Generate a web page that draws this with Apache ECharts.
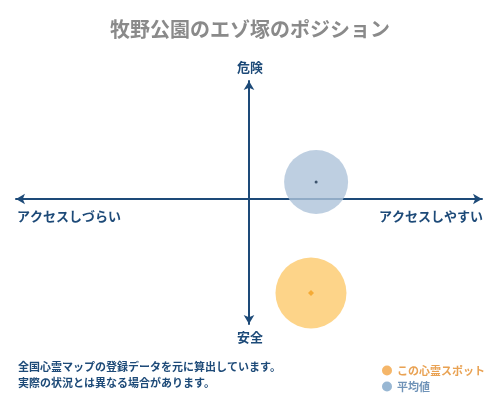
<!DOCTYPE html>
<html><head><meta charset="utf-8">
<script src="https://cdn.jsdelivr.net/npm/echarts@6/dist/echarts.min.js"></script>
<style>html,body{margin:0;padding:0;background:#fff}#c{width:500px;height:400px}</style>
</head><body><div id="c"></div>
<script>
const titleText = "牧野公園のエゾ塚のポジション";
const seriesNames = ["この心霊スポット", "平均値"];
const spotPoint = [0.266, -0.797];
const avgPoint = [0.288, 0.144];
const axisLabels = { top: "危険", bottom: "安全", left: "アクセスしづらい", right: "アクセスしやすい" };
const footerLines = ["全国心霊マップの登録データを元に算出しています。", "実際の状況とは異なる場合があります。"];

const FONT = '"Noto Sans CJK JP", sans-serif';
const NAVY = '#1d4a78';
const chart = echarts.init(document.getElementById('c'), null, {renderer: 'canvas'});
chart.setOption({
  backgroundColor: '#fff',
  animation: false,
  title: { text: titleText, left: 'center', top: 14,
    textStyle: { color: '#8a8a8a', fontSize: 20, fontWeight: 'bold', fontFamily: FONT } },
  grid: { left: 16, right: 18, top: 81, bottom: 76 },
  xAxis: { type: 'value', min: -1, max: 1,
    axisLine: { onZero: true, symbol: ['arrow', 'arrow'], symbolSize: [8, 9], lineStyle: { color: NAVY, width: 2 } },
    axisTick: { show: false }, axisLabel: { show: false }, splitLine: { show: false } },
  yAxis: { type: 'value', min: -1.06, max: 1,
    axisLine: { onZero: true, symbol: ['arrow', 'arrow'], symbolSize: [8, 9], lineStyle: { color: NAVY, width: 2 } },
    axisTick: { show: false }, axisLabel: { show: false }, splitLine: { show: false } },
  legend: { orient: 'vertical', left: 377, top: 360, itemWidth: 10, itemHeight: 10, itemGap: 5,
    icon: 'circle', selectedMode: false,
    textStyle: { fontFamily: FONT, fontSize: 11, fontWeight: 'bold' },
    data: [
      { name: seriesNames[0], itemStyle: { color: '#f2a444' }, textStyle: { color: '#e9a253' } },
      { name: seriesNames[1], itemStyle: { color: '#7ea5c8' }, textStyle: { color: '#6f93b8' } }
    ] },
  series: [
    { name: seriesNames[1], type: 'scatter', symbol: 'circle', symbolSize: 64, z: 2,
      itemStyle: { color: '#aec3da' }, data: [avgPoint] },
    { name: seriesNames[0], type: 'scatter', symbol: 'circle', symbolSize: 71, z: 2,
      itemStyle: { color: '#fdc96b' }, data: [spotPoint] },
    { name: 'avgCenter', type: 'scatter', symbol: 'circle', symbolSize: 3, z: 3,
      itemStyle: { color: '#1d3550' }, data: [avgPoint] },
    { name: 'spotCenter', type: 'scatter', symbol: 'diamond', symbolSize: 6, z: 3,
      itemStyle: { color: '#f2a020' }, data: [spotPoint] }
  ],
  graphic: [
    { type: 'text', x: 250, y: 67, style: { text: axisLabels.top, x: 0, y: 0, align: 'center', verticalAlign: 'middle', fill: NAVY, font: 'bold 13px ' + FONT } },
    { type: 'text', x: 250, y: 337, style: { text: axisLabels.bottom, x: 0, y: 0, align: 'center', verticalAlign: 'middle', fill: NAVY, font: 'bold 13px ' + FONT } },
    { type: 'text', x: 17, y: 216, style: { text: axisLabels.left, x: 0, y: 0, align: 'left', verticalAlign: 'middle', fill: NAVY, font: 'bold 13px ' + FONT } },
    { type: 'text', x: 483, y: 216, style: { text: axisLabels.right, x: 0, y: 0, align: 'right', verticalAlign: 'middle', fill: NAVY, font: 'bold 13px ' + FONT } },
    { type: 'text', x: 18, y: 367, style: { text: footerLines[0], x: 0, y: 0, verticalAlign: 'middle', fill: NAVY, font: 'bold 11px ' + FONT } },
    { type: 'text', x: 18, y: 383, style: { text: footerLines[1], x: 0, y: 0, verticalAlign: 'middle', fill: NAVY, font: 'bold 11px ' + FONT } }
  ]
});
</script></body></html>
